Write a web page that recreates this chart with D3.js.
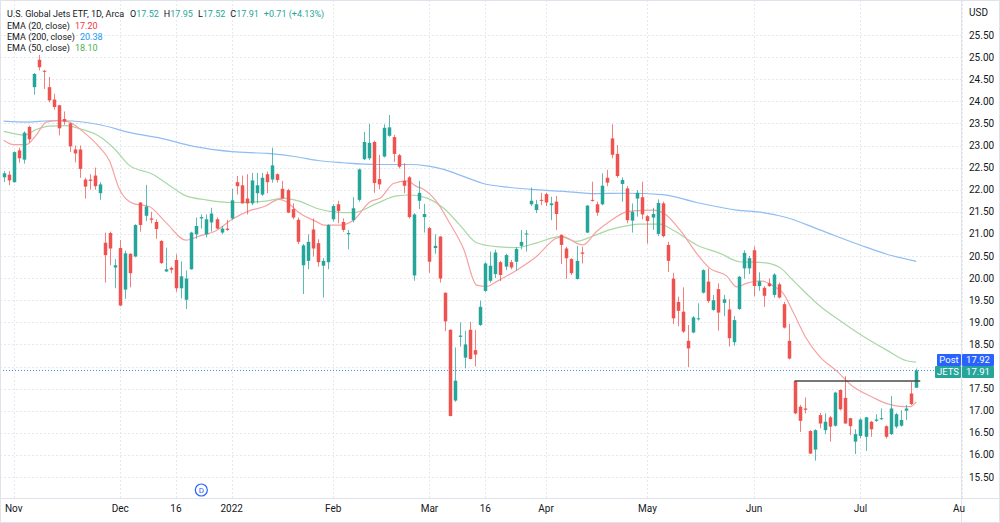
<!DOCTYPE html>
<html><head><meta charset="utf-8">
<script src="https://cdn.jsdelivr.net/npm/d3@7"></script>
<style>
html,body{margin:0;padding:0;background:#fff;}
svg{display:block;font-family:Roboto,"Noto Sans",sans-serif;}
</style></head><body>
<svg id="chart" width="1000" height="523"></svg>
<script>
// ---- data ----
const opens  = [22.28,22.34,22.17,22.89,22.68,23.42,24.32,24.94,24.69,24.32,24.04,23.91,23.60,23.50,22.91,22.91,22.23,22.23,22.32,21.92,
20.80,21.02,20.24,20.68,19.74,20.55,20.49,21.71,21.41,21.35,21.27,20.84,20.15,20.23,20.41,19.77,19.51,20.20,20.99,21.35,
20.99,21.26,21.33,21.03,21.12,21.35,22.17,22.10,21.80,21.69,21.92,21.89,22.35,22.23,22.35,22.02,21.99,21.56,21.32,20.29,
20.39,21.10,20.79,20.28,20.36,21.33,21.67,21.27,20.99,21.31,21.77,22.69,22.71,23.08,22.24,22.75,23.22,23.19,22.78,22.20,
22.28,20.06,21.75,21.38,21.13,20.68,20.94,19.67,18.83,17.23,18.67,18.20,18.83,18.37,18.94,19.71,19.94,20.09,20.36,20.26,
20.36,20.37,20.73,21.00,21.67,21.54,21.77,21.90,21.65,21.73,20.98,20.67,20.43,19.98,20.58,21.03,21.77,21.67,21.67,22.27,
23.16,22.81,22.13,22.03,21.30,21.80,21.83,21.40,21.37,21.00,21.69,20.75,19.99,19.46,19.24,18.58,18.77,19.07,19.67,19.92,
19.28,19.75,19.44,19.29,18.55,19.30,20.22,20.22,20.63,19.82,19.78,19.88,19.62,19.86,19.41,18.58,17.67,17.09,17.05,16.54,
16.12,16.90,16.56,16.85,16.66,17.47,17.29,16.83,16.30,16.43,16.41,16.75,16.77,16.81,16.65,16.47,16.64,16.66,17.00,17.39,17.52];
const highs  = [22.42,22.42,22.87,22.95,23.32,23.45,24.64,25.05,24.71,24.55,24.17,23.92,23.77,23.51,23.00,23.00,22.27,22.35,22.50,22.17,
21.03,21.05,20.43,20.86,20.62,20.56,21.22,21.72,22.11,21.50,21.33,20.86,20.69,20.26,20.54,20.38,20.17,21.05,21.37,21.44,
21.44,21.59,21.37,21.18,21.32,22.02,22.31,22.32,22.35,22.38,22.38,22.38,22.41,22.95,22.37,22.20,22.02,21.69,21.37,20.77,
20.99,21.35,20.88,20.45,21.22,21.67,21.75,21.35,21.09,21.83,22.48,23.31,23.49,23.11,22.79,23.48,23.69,23.24,22.81,22.60,
22.31,21.47,22.20,21.68,21.16,20.99,20.95,19.67,18.84,18.43,19.00,18.81,19.01,18.83,19.49,20.36,20.60,20.64,20.39,20.55,
20.41,20.70,21.09,21.09,22.05,21.77,21.93,21.93,21.84,21.86,20.98,20.71,20.45,20.73,20.71,21.65,22.18,21.73,22.37,22.45,
23.48,23.01,22.28,22.08,21.69,21.99,22.18,21.43,21.59,21.78,21.73,20.82,20.12,19.58,19.79,18.94,19.14,19.43,20.20,20.22,
19.62,19.88,19.62,19.52,19.14,20.05,20.63,20.50,20.72,20.13,19.82,19.99,20.11,19.90,19.46,18.96,17.67,17.13,17.30,16.56,
16.58,16.95,16.94,16.88,17.43,17.48,17.78,16.84,16.58,16.83,16.86,16.77,16.92,17.05,16.67,17.33,16.95,17.01,17.13,17.65,17.95];
const lows   = [22.17,22.10,22.16,22.61,22.59,23.06,24.15,24.70,24.28,23.98,23.81,23.23,23.47,22.85,22.62,22.27,21.80,22.00,22.00,21.77,
19.90,20.29,19.77,19.36,19.53,19.79,20.47,21.05,21.29,21.24,20.89,20.32,20.14,20.11,19.69,19.54,19.30,20.19,20.89,21.12,
20.92,21.05,21.11,20.99,21.07,21.32,21.89,21.69,21.44,21.65,21.69,21.86,21.92,22.16,22.16,21.80,21.47,21.33,20.77,19.64,
20.20,20.49,20.26,19.56,20.20,21.28,21.24,21.05,20.65,21.26,21.73,22.67,22.67,21.93,22.01,22.73,23.20,22.63,22.48,21.92,
21.35,19.94,21.56,21.03,20.12,20.55,19.90,18.80,16.87,17.20,18.45,17.96,18.16,18.00,18.92,19.69,19.90,20.00,19.93,20.18,
20.20,20.17,20.65,20.60,21.63,21.47,21.65,21.63,21.31,21.09,20.32,19.98,20.07,19.97,20.33,21.02,21.73,21.41,21.65,22.08,
22.71,22.27,21.73,21.24,21.03,21.39,21.33,20.78,21.09,20.95,20.92,20.14,18.96,18.91,18.76,17.99,18.75,19.04,19.65,19.44,
19.26,18.81,19.14,18.45,18.47,19.28,19.99,20.09,19.59,19.71,19.35,19.80,19.56,19.54,18.86,18.16,16.92,16.52,16.94,16.02,
15.87,16.60,16.47,16.30,16.64,17.01,16.71,16.45,16.02,16.37,16.09,16.41,16.75,16.79,16.37,16.45,16.60,16.64,16.79,17.13,17.52];
const closes = [22.37,22.21,22.85,22.71,23.29,23.14,24.62,24.77,24.67,24.02,23.87,23.39,23.54,22.98,22.82,22.47,22.07,22.20,22.08,22.12,
20.52,20.67,20.29,19.38,20.56,20.11,21.20,21.20,21.62,21.32,21.11,20.34,20.20,20.19,19.77,20.04,19.99,21.03,21.18,21.38,
21.33,21.46,21.12,21.12,21.09,21.76,22.08,21.69,21.69,22.21,22.10,22.27,22.17,22.55,22.22,21.80,21.48,21.37,20.82,20.74,
20.82,20.67,20.36,20.39,21.20,21.63,21.52,21.09,21.02,21.58,22.46,23.08,23.06,22.15,22.12,23.40,23.41,22.81,22.52,22.09,
21.38,21.44,21.93,21.45,20.37,20.73,19.99,19.02,16.88,17.68,18.70,18.50,18.17,18.27,19.35,20.33,20.28,20.58,20.07,20.52,
20.24,20.66,20.82,21.01,21.75,21.67,21.75,21.71,21.69,21.45,20.75,20.45,20.11,20.39,20.55,21.64,21.75,21.48,22.09,22.16,
22.79,22.31,22.22,21.31,21.50,21.93,21.44,21.29,21.45,21.70,20.95,20.39,19.09,19.26,18.79,18.41,19.11,19.09,20.18,19.48,
19.50,19.22,19.52,18.64,19.05,20.03,20.57,20.45,19.82,19.93,19.60,19.82,20.08,19.56,18.88,18.18,16.94,16.77,17.02,16.03,
16.56,16.71,16.75,16.64,17.41,17.03,16.71,16.65,16.47,16.80,16.85,16.58,16.80,16.83,16.41,17.05,16.92,16.79,17.05,17.15,17.91];

// EMA lines (bar index, value)
const ema20Idx = [0,2,4.5,6.4,8.4,11,13,15.6,19,20.9,22.8,25.5,28.7,32,36,38.6,41.9,45.1,48.4,51.7,54.3,55.6,58.3,62,63.1,66.4,69,72.3,74.3,76.9,79.5,81.5,82.8,85.4,88,90.7,93.3,95.3,97.2,101.2,105.1,109,110.4,113,114.3,116.9,119.5,122.8,124.2,128.1,130.7,133.4,136.7,139.3,142.6,144.6,146.5,149.2,151.8,153.8,155.7,158.3,161,164.3,167.6,171.5,174.2,176.8,178.8,180];
const ema20Val = [23.12,23.02,23.02,23.23,23.53,23.57,23.53,23.32,22.95,22.65,22.02,21.69,21.62,21.26,20.86,20.95,21.07,21.33,21.52,21.63,21.78,21.74,21.48,21.26,21.2,21.2,21.31,21.73,21.81,22.14,22.2,22.07,22.01,21.73,21.24,20.67,19.84,19.81,19.92,20.18,20.49,20.9,20.94,20.79,20.75,21.05,21.28,21.5,21.52,21.54,21.43,21.09,20.56,20.22,20.05,19.8,19.88,19.94,19.82,19.65,19.24,18.64,18.22,17.9,17.54,17.3,17.16,17.1,17.09,17.2];
const ema50Idx = [0,2,4,6.4,9,12.3,15,19,22,24.8,29.4,33.3,36,39.9,45,51.7,55,58.3,62,65,69,73.6,77.5,80.2,83.5,86.8,90,93.3,97.2,101,105,109.7,113,116,119.5,122.8,125.5,129.4,132,136.7,141.3,145.2,149.8,153.1,155.7,161,164.3,168.9,174.2,178.1,180];
const ema50Val = [23.32,23.27,23.23,23.36,23.44,23.45,23.38,23.2,22.91,22.55,22.35,22.05,21.86,21.77,21.71,21.74,21.81,21.74,21.57,21.5,21.48,21.69,21.86,21.88,21.81,21.58,21.2,20.8,20.71,20.69,20.79,20.94,20.83,20.94,21.09,21.18,21.22,21.22,21.09,20.75,20.56,20.37,20.35,20.24,19.95,19.37,19.09,18.73,18.37,18.13,18.10];
const ema200Idx = [0,5,9,12,19,25,32,36,39,45,52,58,62,67,73.6,80,83.5,86.8,90,94.6,99.9,106.4,113,116,122.8,130,136.7,144.6,149.8,154.4,161,168.9,174.2,180];
const ema200Val = [23.55,23.53,23.56,23.56,23.47,23.29,23.14,23.02,22.95,22.86,22.82,22.74,22.66,22.61,22.57,22.57,22.54,22.46,22.33,22.14,22.05,21.99,21.94,21.91,21.92,21.89,21.71,21.54,21.48,21.37,21.09,20.75,20.54,20.38];

const xTickIdx = [2,23,34,45,65,84,95,107,127,148,169,189];
const xTickLabels = ["Nov","Dec","16","2022","Feb","Mar","16","Apr","May","Jun","Jul","Aug"];
const yTicks = [15.5,16,16.5,17,17.5,18,18.5,19,19.5,20,20.5,21,21.5,22,22.5,23,23.5,24,24.5,25,25.5];
const levelLine = {from:156, to:180.8, value:17.67};
const dividendIdx = 39;
const lastPrice = 17.91, postPrice = 17.92;
const legendTitle = "U.S. Global Jets ETF, 1D, Arca";
const legendOHLC = [["O","17.52"],["H","17.95"],["L","17.52"],["C","17.91"]];
const legendChange = "+0.71 (+4.13%)";
const emaLegend = [["EMA (20, close)","17.20","#f23645"],["EMA (200, close)","20.38","#2196f3"],["EMA (50, close)","18.10","#4caf50"]];

// ---- drawing ----
const W=1000,H=523, plotRight=961, plotBottom=498;
const svg=d3.select("#chart");
const x=d3.scaleLinear().domain([0,180]).range([3.6,916.2]);
const y=d3.scaleLinear().domain([15.5,25.5]).range([477,35]);
const UP="#26a69a", DN="#ef5350", GRID="#e6e8ee", TXT="#131722";

svg.append("rect").attr("width",W).attr("height",H).attr("fill","#fff");
const defs=svg.append("defs");
defs.append("clipPath").attr("id","plotclip").append("rect")
  .attr("x",0).attr("y",0).attr("width",plotRight).attr("height",plotBottom);
defs.append("clipPath").attr("id","xclip").append("rect").attr("x",0).attr("y",499).attr("width",965).attr("height",24);

// grid
const grid=svg.append("g");
grid.selectAll("line.h").data(yTicks).join("line")
  .attr("x1",0).attr("x2",plotRight).attr("y1",d=>Math.round(y(d))+0.5).attr("y2",d=>Math.round(y(d))+0.5)
  .attr("stroke",GRID).attr("stroke-dasharray","2,2");
grid.selectAll("line.v").data(xTickIdx).join("line")
  .attr("x1",d=>Math.round(x(d))+0.5).attr("x2",d=>Math.round(x(d))+0.5).attr("y1",0).attr("y2",plotBottom)
  .attr("stroke",GRID).attr("stroke-dasharray","2,2");

const plot=svg.append("g").attr("clip-path","url(#plotclip)");

// price line (dotted)
plot.append("line").attr("x1",0).attr("x2",plotRight)
  .attr("y1",Math.round(y(lastPrice))+0.5).attr("y2",Math.round(y(lastPrice))+0.5)
  .attr("stroke","#3d8ef0").attr("stroke-width",1).attr("stroke-dasharray","1,2");

// EMA lines
function emaLine(idx,val,color){
  const pts=idx.map((d,i)=>[d,val[i]]);
  plot.append("path").datum(pts)
    .attr("d",d3.line().x(d=>x(d[0])).y(d=>y(d[1])).curve(d3.curveMonotoneX))
    .attr("fill","none").attr("stroke",color).attr("stroke-width",1.2);
}
emaLine(ema200Idx,ema200Val,"#8fbdf3");
emaLine(ema50Idx,ema50Val,"#a8d8a6");
emaLine(ema20Idx,ema20Val,"#f6a2a2");

// candles
const idx=d3.range(closes.length);
const cg=plot.append("g");
cg.selectAll("line.w").data(idx).join("line")
  .attr("x1",i=>Math.round(x(i))+0.5).attr("x2",i=>Math.round(x(i))+0.5)
  .attr("y1",i=>y(highs[i])).attr("y2",i=>y(lows[i]))
  .attr("stroke",i=>closes[i]>=opens[i]?UP:DN).attr("stroke-width",1).attr("stroke-opacity",0.75);
cg.selectAll("rect").data(idx).join("rect")
  .attr("x",i=>Math.round(x(i))+0.5-1.75).attr("width",3.5)
  .attr("y",i=>y(Math.max(opens[i],closes[i])))
  .attr("height",i=>Math.max(1,Math.abs(y(opens[i])-y(closes[i]))))
  .attr("fill",i=>closes[i]>=opens[i]?UP:DN);

// level line
plot.append("line").attr("x1",x(levelLine.from)).attr("x2",x(levelLine.to))
  .attr("y1",y(levelLine.value)).attr("y2",y(levelLine.value))
  .attr("stroke","#4a4a4a").attr("stroke-width",1.5);

// axes frame
svg.append("line").attr("x1",plotRight+0.5).attr("x2",plotRight+0.5).attr("y1",0).attr("y2",H).attr("stroke","#e0e3eb");
svg.append("line").attr("x1",0).attr("x2",W).attr("y1",plotBottom+0.5).attr("y2",plotBottom+0.5).attr("stroke","#e0e3eb");
svg.append("rect").attr("x",0.5).attr("y",0.5).attr("width",W-1).attr("height",H-1).attr("fill","none").attr("stroke","#e0e3eb");

// price tags position (tick labels hidden under them, as in the reference)
const yJ=y(lastPrice)+1.5;
const tagTop=yJ-18, tagBottom=yJ+6;

// right axis
const ra=svg.append("g").attr("font-size",10).attr("fill",TXT);
ra.selectAll("text").data(yTicks.filter(d=>y(d)+6<tagTop||y(d)-6>tagBottom)).join("text")
  .attr("x",969).attr("y",d=>y(d)+3.5).text(d=>d3.format(".2f")(d));
ra.append("text").attr("x",969).attr("y",16).text("USD");

// bottom axis
const xa=svg.append("g").attr("font-size",10).attr("fill",TXT).attr("clip-path","url(#xclip)");
xa.selectAll("text").data(xTickIdx).join("text")
  .attr("x",d=>x(d)).attr("y",512).attr("text-anchor","middle")
  .text((d,i)=>xTickLabels[i]);

// dividend marker
const dm=svg.append("g").attr("transform",`translate(${x(dividendIdx)},490)`);
dm.append("circle").attr("r",6).attr("fill","#fff").attr("stroke","#2962ff").attr("stroke-width",1.2);
dm.append("text").attr("y",3).attr("text-anchor","middle").attr("font-size",8).attr("fill","#2962ff").text("D");

// price labels
function tag(x0,w,cy,fill,label){
  svg.append("rect").attr("x",x0).attr("y",cy-6).attr("width",w).attr("height",12).attr("rx",1).attr("fill",fill);
  svg.append("text").attr("x",x0+w/2).attr("y",cy+3.3).attr("text-anchor","middle").attr("font-size",9.5).attr("fill","#fff").text(label);
}
tag(937,24,yJ-12,"#2962ff","Post");
tag(962,32,yJ-12,"#2962ff",d3.format(".2f")(postPrice));
tag(935,26,yJ,UP,"JETS");
tag(962,32,yJ,UP,d3.format(".2f")(lastPrice));

// legend: pieces laid out one after another, by measured width
const lg=svg.append("g").attr("font-size",9);
function piece(x0,y0,parts){
  const t=lg.append("text").attr("x",x0).attr("y",y0);
  parts.forEach(p=>t.append("tspan").attr("fill",p[1]).text(p[0]));
  return x0+t.node().getComputedTextLength();
}
let cx=piece(7,17,[[legendTitle,TXT]])+6;
legendOHLC.forEach(d=>{ cx=piece(cx,17,[[d[0],TXT],[d[1],UP]])+5; });
piece(cx,17,[[legendChange,UP]]);
emaLegend.forEach((d,i)=>{
  const yy=28.5+i*11.3;
  const ex=piece(7,yy,[[d[0],TXT]])+5;
  piece(ex,yy,[[d[1],d[2]]]);
});
</script>
</body></html>
